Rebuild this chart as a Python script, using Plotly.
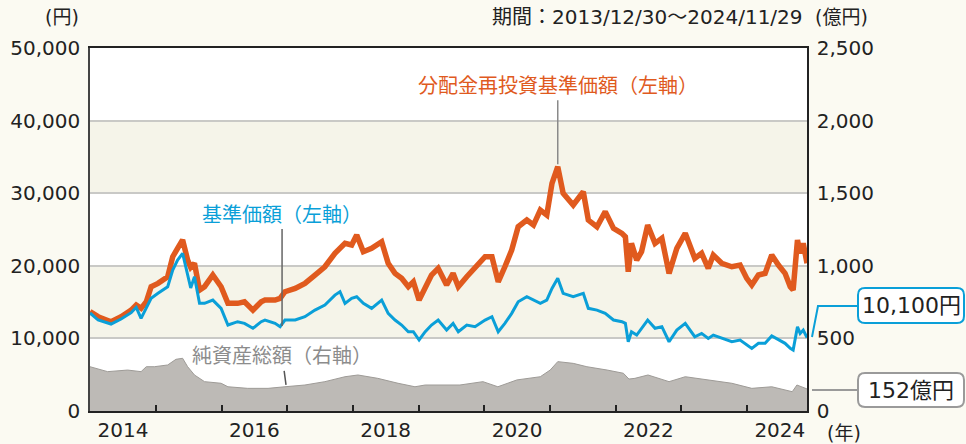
import plotly.graph_objects as go

# ---- data ----
nav_dates = ["2013-12-30","2014-02-13","2014-04-26","2014-06-21","2014-08-16","2014-09-13","2014-10-10","2014-11-08","2014-12-05",
    "2015-01-12","2015-03-07","2015-04-04","2015-05-01","2015-05-29","2015-06-26","2015-07-13","2015-08-03","2015-08-31","2015-09-28","2015-11-13","2015-12-29",
    "2016-02-05","2016-03-30","2016-05-07","2016-06-23","2016-08-08","2016-08-29","2016-10-24","2016-11-21","2016-12-18",
    "2017-02-13","2017-04-08","2017-06-03","2017-07-28","2017-09-22","2017-10-20","2017-11-17","2017-12-24",
    "2018-01-21","2018-02-27","2018-04-14","2018-06-09","2018-07-15","2018-08-22","2018-09-28","2018-11-04","2018-12-02",
    "2019-01-03","2019-02-06","2019-03-13","2019-04-19","2019-06-05","2019-07-11","2019-08-09","2019-09-25","2019-11-10",
    "2020-01-05","2020-02-12","2020-03-18","2020-04-24","2020-06-01","2020-07-07","2020-08-24","2020-09-30","2020-11-07","2020-12-13",
    "2021-01-11","2021-02-12","2021-03-14","2021-05-09","2021-07-04","2021-08-01","2021-09-18","2021-11-03","2021-12-19",
    "2022-02-04","2022-02-23","2022-03-11","2022-03-29","2022-04-27","2022-05-24","2022-06-27","2022-08-07","2022-09-14","2022-10-24","2022-12-06",
    "2023-01-22","2023-03-16","2023-04-23","2023-05-30","2023-06-27","2023-08-13","2023-10-08","2023-11-23","2023-12-30",
    "2024-01-27","2024-03-04","2024-04-10","2024-05-17","2024-06-23","2024-07-30","2024-08-28","2024-09-13","2024-10-07","2024-10-22","2024-11-08","2024-11-29"]

reinvested_nav = [13700,12990,12300,12990,13900,14600,14140,15050,17120,
    17580,18490,21250,22400,23550,20790,19800,20340,16660,17120,18730,17120,
    14830,14830,15050,13900,15050,15280,15280,15520,16430,
    16890,17580,18730,19870,21720,22400,23090,22860,
    24240,21940,22400,23310,20340,18960,18270,17120,17800,
    15280,17120,18730,19650,17350,18960,17120,18490,19650,
    21250,21250,17800,19870,22170,25380,26300,25610,27680,26990,
    31360,33640,29980,28370,30200,26300,25380,27460,25150,
    24470,24000,19180,23090,20790,21940,25610,23090,23780,18960,22400,
    24470,21030,21720,19650,21480,20340,19870,20100,18270,
    17350,18730,18960,21480,20100,18960,17120,16660,23550,21720,23090,20340]

base_nav = [13500,12530,11980,12670,13540,14280,12760,14140,15520,
    16210,17120,19420,20790,21720,18490,16940,18490,14830,14830,15280,14140,
    11840,12300,12070,11390,12300,12530,12070,11610,12530,
    12530,12990,13900,14600,15970,16430,14830,15520,
    15740,14830,14140,15280,13450,12530,11840,10920,10920,
    9780,10920,11840,12530,11150,12070,10920,11840,11610,
    12530,12990,10920,12070,13450,15050,15740,15280,14830,15280,
    16890,18270,16210,15740,16210,14140,13900,13450,12530,
    12300,12070,9540,10920,10460,11390,12530,11390,11610,9540,11150,
    12070,10230,10690,10000,10460,10000,9540,9780,9090,
    8630,9320,9320,10330,9780,9320,8630,8400,11610,10690,11150,10100]

assets_dates = ["2013-12-30","2014-04-07","2014-07-27","2014-10-10","2014-11-08","2014-12-23","2015-03-07","2015-04-22","2015-05-29",
    "2015-06-26","2015-08-03","2015-09-28","2015-12-29","2016-02-05","2016-05-25","2016-09-15","2016-12-18","2017-04-08",
    "2017-07-28","2017-11-17","2018-01-28","2018-05-18","2018-09-08","2018-12-11","2019-02-06","2019-04-28","2019-08-18",
    "2019-12-24","2020-03-16","2020-06-30","2020-11-07","2021-01-01","2021-02-12","2021-05-09","2021-07-24","2021-11-14",
    "2022-02-12","2022-03-15","2022-04-17","2022-06-29","2022-10-24","2023-01-22","2023-05-30","2023-10-08","2024-01-27",
    "2024-05-17","2024-09-08","2024-10-04","2024-11-29"]
net_assets = [305,271,282,271,305,305,317,356,363,
    305,248,202,191,167,156,156,167,179,
    202,236,248,225,191,167,179,179,179,
    202,167,214,236,282,340,328,305,282,
    260,220,225,248,202,236,214,191,156,
    167,133,179,152]

year_label_pos = ["2014-07-01","2016-07-01","2018-07-01","2020-07-01","2022-07-01","2024-07-01"]
year_labels = ["2014","2016","2018","2020","2022","2024"]
year_ticks = ["2015-01-01","2016-01-01","2017-01-01","2018-01-01","2019-01-01","2020-01-01",
              "2021-01-01","2022-01-01","2023-01-01","2024-01-01"]
left_ticks = [0,10000,20000,30000,40000,50000]
left_labels = ["0","10,000","20,000","30,000","40,000","50,000"]
right_ticks = [0,500,1000,1500,2000,2500]
right_labels = ["0","500","1,000","1,500","2,000","2,500"]

FONT = "DejaVu Sans, Noto Sans CJK JP"
CJK = "Noto Sans CJK JP"
ORANGE = "#e05a1e"
BLUE = "#0a9fd8"
GRAYTXT = "#8c8c8c"
GRAYLINE = "#9a9a9a"
BG = "#fbfaf2"
BAND = "#f5f4e9"
TXT = "#222222"

# plot area in page pixels (for callout decorations only)
PL, PR, PT, PB = 90, 807, 48, 411


def paper(px, py):
    return (px - PL) / (PR - PL), (PB - py) / (PB - PT)


def rounded_box(x0, y0, x1, y1, r):
    pts = []
    def P(cmd, *xy):
        s = cmd
        for i in range(0, len(xy), 2):
            a, b = paper(xy[i], xy[i + 1])
            s += f" {a:.5f},{b:.5f}"
        pts.append(s)
    P("M", x0 + r, y0)
    P("L", x1 - r, y0)
    P("Q", x1, y0, x1, y0 + r)
    P("L", x1, y1 - r)
    P("Q", x1, y1, x1 - r, y1)
    P("L", x0 + r, y1)
    P("Q", x0, y1, x0, y1 - r)
    P("L", x0, y0 + r)
    P("Q", x0, y0, x0 + r, y0)
    return " ".join(pts) + " Z"


def polyline(*xy):
    parts = []
    for i in range(0, len(xy), 2):
        a, b = paper(xy[i], xy[i + 1])
        parts.append(("M" if i == 0 else "L") + f" {a:.5f},{b:.5f}")
    return " ".join(parts)


fig = go.Figure()
fig.add_trace(go.Scatter(x=assets_dates, y=net_assets, yaxis="y2", mode="lines",
                         fill="tozeroy", fillcolor="#bdbab6",
                         line=dict(color="#9e9b97", width=1), hoverinfo="skip"))
fig.add_trace(go.Scatter(x=nav_dates, y=reinvested_nav, mode="lines",
                         line=dict(color=ORANGE, width=5.5), hoverinfo="skip"))
fig.add_trace(go.Scatter(x=nav_dates, y=base_nav, mode="lines",
                         line=dict(color=BLUE, width=3), hoverinfo="skip"))

# background bands
for lo, hi in [(10000, 20000), (30000, 40000)]:
    fig.add_shape(type="rect", xref="paper", yref="y", x0=0, x1=1, y0=lo, y1=hi,
                  fillcolor=BAND, line=dict(width=0), layer="below")

# leader lines and rounded boxes for end-value callouts
fig.add_shape(type="path", xref="paper", yref="paper",
              path=polyline(812, 337, 818, 306, 858, 306),
              line=dict(color=BLUE, width=2))
fig.add_shape(type="path", xref="paper", yref="paper",
              path=polyline(812, 390, 858, 390),
              line=dict(color=GRAYLINE, width=2))
fig.add_shape(type="path", xref="paper", yref="paper",
              path=rounded_box(858, 288, 964, 323, 7),
              fillcolor="white", line=dict(color=BLUE, width=2))
fig.add_shape(type="path", xref="paper", yref="paper",
              path=rounded_box(858, 373, 964, 407, 7),
              fillcolor="white", line=dict(color=GRAYLINE, width=2))

ann = []
ann.append(dict(text="(円)", xref="paper", yref="paper", x=-0.013, y=1.085,
                xanchor="right", yanchor="middle", showarrow=False,
                font=dict(size=19, color=TXT)))
ann.append(dict(text="期間：2013/12/30～2024/11/29", xref="paper", yref="paper", x=0.997, y=1.085,
                xanchor="right", yanchor="middle", showarrow=False,
                font=dict(size=20, color=TXT)))
ann.append(dict(text="(億円)", xref="paper", yref="paper", x=1.008, y=1.085,
                xanchor="left", yanchor="middle", showarrow=False,
                font=dict(size=19, color=TXT)))
ann.append(dict(text="(年)", xref="paper", yref="paper", x=1.025, y=-0.06,
                xanchor="left", yanchor="middle", showarrow=False,
                font=dict(size=19, color=TXT)))
# series labels with pointer lines
ann.append(dict(text="分配金再投資基準価額（左軸）", x="2021-02-12", y=34000, xref="x", yref="y",
                showarrow=True, arrowhead=0, arrowwidth=1.5, arrowcolor="#8a8a8a",
                ax=0, ay=-80, standoff=0, font=dict(family=CJK, size=20, color=ORANGE)))
ann.append(dict(text="基準価額（左軸）", x="2016-12-02", y=11700, xref="x", yref="y",
                showarrow=True, arrowhead=0, arrowwidth=1.5, arrowcolor="#666",
                ax=0, ay=-113, standoff=0, font=dict(family=CJK, size=20, color=BLUE)))
ann.append(dict(text="純資産総額（右軸）", x="2016-12-24", y=180, xref="x", yref="y2",
                showarrow=True, arrowhead=0, arrowwidth=1.5, arrowcolor="#555",
                ax=-4, ay=-30, standoff=0, font=dict(family=CJK, size=20, color=GRAYTXT)))
# end value texts (inside the rounded boxes)
bx, by1 = paper(911, 305.5)
_, by2 = paper(911, 390)
ann.append(dict(text="10,100円", xref="paper", yref="paper", x=bx, y=by1,
                xanchor="center", yanchor="middle", showarrow=False,
                font=dict(size=22, color=TXT)))
ann.append(dict(text="152億円", xref="paper", yref="paper", x=bx, y=by2,
                xanchor="center", yanchor="middle", showarrow=False,
                font=dict(size=22, color=TXT)))

fig.update_layout(
    width=966, height=444,
    margin=dict(l=PL, r=966 - PR, t=PT, b=444 - PB),
    paper_bgcolor=BG, plot_bgcolor="white",
    font=dict(family=FONT, color=TXT),
    showlegend=False,
    annotations=ann,
    xaxis=dict(type="date", range=["2013-12-30", "2024-11-29"], automargin=False,
               tickmode="array", tickvals=year_label_pos, ticktext=year_labels,
               ticks="", showgrid=False, zeroline=False,
               showline=True, linecolor=TXT, linewidth=1.5, mirror=True,
               tickfont=dict(size=20, color=TXT),
               minor=dict(tickmode="array", tickvals=year_ticks, ticks="inside",
                          ticklen=6, tickcolor=TXT, tickwidth=1.5, showgrid=False)),
    yaxis=dict(range=[0, 50000], tickmode="array", tickvals=left_ticks, ticktext=left_labels,
               automargin=False,
               showgrid=True, gridcolor="#c9c9c6", gridwidth=1.5, zeroline=False,
               showline=True, linecolor="#444", linewidth=1.5, ticks="",
               ticklabelstandoff=4, tickfont=dict(size=20, color=TXT)),
    yaxis2=dict(range=[0, 2500], overlaying="y", side="right", tickmode="array",
                automargin=False,
                tickvals=right_ticks, ticktext=right_labels, showgrid=False, zeroline=False,
                showline=True, linecolor=TXT, linewidth=1.5, ticks="",
                ticklabelstandoff=4, tickfont=dict(size=20, color=TXT)),
)

fig.write_html("out.html", config={"displayModeBar": False},
               post_script="document.body.style.margin='0';")
